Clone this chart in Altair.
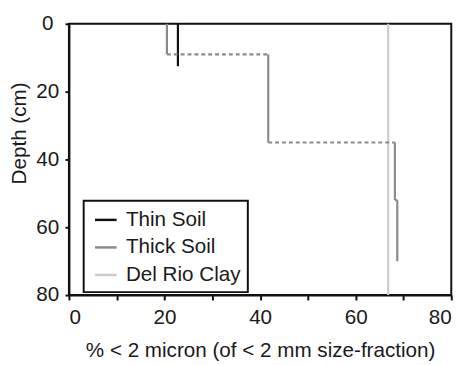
import altair as alt
import pandas as pd

# ---- data ----
series_names = ["Thin Soil", "Thick Soil", "Del Rio Clay"]
series_colors = ["#111111", "#8a8a8a", "#cccccc"]

thin_values = [22.8]
thin_depths = [0, 12.5]

thick_values = [20.5, 41.7, 68.2, 68.7]
thick_depths = [0, 9, 35, 52, 70]

clay_values = [66.8]
clay_depths = [0, 80]

x_ticks = [0, 10, 20, 30, 40, 50, 60, 70, 80]
y_ticks = [0, 10, 20, 30, 40, 50, 60, 70, 80]

# ---- build segment tables ----
solid_rows = []
dash_rows = []


def add_profile(name, values, depths):
    for i, v in enumerate(values):
        solid_rows.append({"series": name, "x": v, "x2": v, "y": depths[i], "y2": depths[i + 1]})
        if i + 1 < len(values):
            row = {"series": name, "x": v, "x2": values[i + 1], "y": depths[i + 1], "y2": depths[i + 1]}
            if abs(values[i + 1] - v) > 2:
                dash_rows.append(row)
            else:
                solid_rows.append(row)


add_profile("Del Rio Clay", clay_values, clay_depths)
add_profile("Thick Soil", thick_values, thick_depths)
add_profile("Thin Soil", thin_values, thin_depths)

solid = pd.DataFrame(solid_rows)
dashed = pd.DataFrame(dash_rows)

FONT = "Liberation Sans"

xscale = alt.Scale(domain=[0, 80], nice=False, zero=False)
yscale = alt.Scale(domain=[0, 80], reverse=True, nice=False, zero=False)

x_axis = alt.Axis(
    values=x_ticks,
    labelExpr="datum.value % 20 == 0 ? datum.label : ''",
    title="% < 2 micron (of < 2 mm size-fraction)",
    grid=False,
    tickSize=5,
    labelPadding=7,
    titlePadding=12,
)
y_axis = alt.Axis(
    values=y_ticks,
    labelExpr="datum.value % 20 == 0 ? datum.label : ''",
    title="Depth (cm)",
    grid=False,
    tickSize=4,
    labelAlign="center",
    labelPadding=18,
    titleAngle=270,
    titleX=-50,
    titleY=111,
    titleAlign="center",
    titleBaseline="middle",
)

color = alt.Color(
    "series:N",
    scale=alt.Scale(domain=series_names, range=series_colors),
    sort=series_names,
    legend=alt.Legend(
        title=None,
        orient="none",
        legendX=15,
        legendY=180,
        symbolType="stroke",
        symbolSize=484,
        symbolStrokeWidth=2.5,
        labelFontSize=21,
        labelFont=FONT,
        labelColor="#1a1a1a",
        rowPadding=5,
        padding=7,
        symbolOffset=3,
        labelOffset=8,
        strokeColor="#111111",
    ),
)

solid_layer = alt.Chart(solid).mark_rule(strokeWidth=2.2).encode(
    x=alt.X("x:Q", scale=xscale, axis=x_axis),
    x2="x2:Q",
    y=alt.Y("y:Q", scale=yscale, axis=y_axis),
    y2="y2:Q",
    color=color,
)

dash_layer = alt.Chart(dashed).mark_rule(
    strokeWidth=2.2, strokeDash=[4, 3], color="#8a8a8a"
).encode(
    x=alt.X("x:Q", scale=xscale),
    x2="x2:Q",
    y=alt.Y("y:Q", scale=yscale),
    y2="y2:Q",
)

chart = (
    alt.layer(solid_layer, dash_layer)
    .properties(
        width=389,
        height=276,
        autosize=alt.AutoSizeParams(type="none"),
        padding={"left": 62, "top": 13, "right": 16, "bottom": 65},
    )
    .configure_view(stroke="#111111", strokeWidth=2)
    .configure_axis(
        domainColor="#111111",
        domainWidth=2,
        tickColor="#111111",
        tickWidth=2,
        labelFont=FONT,
        labelFontSize=21,
        labelColor="#1a1a1a",
        titleFont=FONT,
        titleFontSize=21,
        titleFontWeight="normal",
        titleColor="#1a1a1a",
    )
    .configure_legend(strokeWidth=2)
)

chart.save("out.html", embed_options={"renderer": "svg", "actions": False})
